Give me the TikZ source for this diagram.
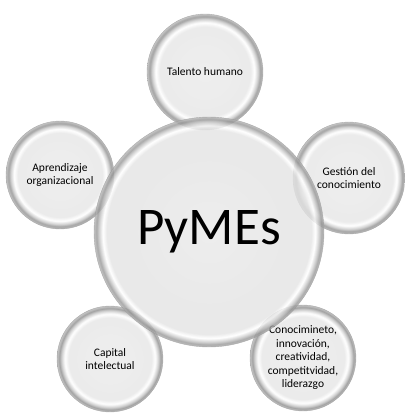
\documentclass[tikz,border=0pt]{standalone}
\usepackage{fontspec}
\setmainfont{Carlito}
\usetikzlibrary{positioning,shadings}

\pgfdeclareradialshading{glass}{\pgfpoint{0bp}{0bp}}{color(0bp)=(black!8); color(19.5bp)=(black!10); color(21.3bp)=(white); color(22.8bp)=(black!22); color(23.9bp)=(black!45); color(24.6bp)=(black!35); color(25bp)=(black!28); color(50bp)=(black!28)}
\pgfdeclareradialshading{bigglass}{\pgfpoint{0bp}{0bp}}{color(0bp)=(black!9); color(22.2bp)=(black!11); color(23.1bp)=(white); color(23.9bp)=(black!22); color(24.5bp)=(black!42); color(24.8bp)=(black!35); color(25bp)=(black!28); color(50bp)=(black!28)}

\tikzset{
  bubble/.style={circle, shade, shading=glass, fill opacity=0.8, text opacity=1,
    draw=black!45, draw opacity=0.6, align=center, inner sep=0pt,
    font=\fontsize{11.5}{13.5}\selectfont}
}

\begin{document}
\begin{tikzpicture}[x=1pt,y=-1pt]
\useasboundingbox (0,0) rectangle (405,416);

\node[bubble, minimum size=116pt] (talento) at (205,72) {Talento humano};
\node[bubble, minimum size=108pt] (aprendizaje) at (60,175) {Aprendizaje\\organizacional};
\node[bubble, minimum size=112pt] (gestion) at (349,178) {Gestión del\\conocimiento};
\node[bubble, minimum size=106pt] (capital) at (110,359) {Capital\\intelectual};
\node[bubble, minimum size=106pt] (conocimiento) at (303,358) {Conocimineto,\\innovación,\\creatividad,\\competitvidad,\\liderazgo};

\node[bubble, shading=bigglass, minimum size=230pt, font=\fontsize{53}{56}\selectfont] (pymes) at (209,232) {PyMEs};

\end{tikzpicture}
\end{document}
